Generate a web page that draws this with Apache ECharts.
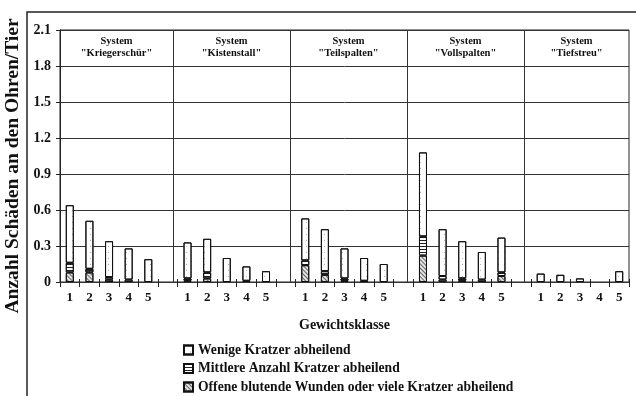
<!DOCTYPE html>
<html>
<head>
<meta charset="utf-8">
<script src="https://cdn.jsdelivr.net/npm/echarts@6/dist/echarts.min.js"></script>
<style>html,body{margin:0;padding:0;background:#fff;}#c{width:636px;height:396px;}</style>
</head>
<body>
<div id="c"></div>
<script>
const systems = ['"Kriegerschür"', '"Kistenstall"', '"Teilspalten"', '"Vollspalten"', '"Tiefstreu"'];
const classes = ['1', '2', '3', '4', '5'];
const yTicks = [0, 0.3, 0.6, 0.9, 1.2, 1.5, 1.8, 2.1];
const seriesNames = ['Wenige Kratzer abheilend', 'Mittlere Anzahl Kratzer abheilend', 'Offene blutende Wunden oder viele Kratzer abheilend'];
// per system, per weight class
const wenige   = [[0.48,0.40,0.30,0.26,0.19],[0.30,0.28,0.20,0.12,0.09],[0.35,0.35,0.25,0.19,0.15],[0.70,0.39,0.31,0.23,0.29],[0.07,0.06,0.03,0,0.09]];
const mittlere = [[0.08,0.03,0.02,0.02,0],[0.02,0.05,0,0.01,0],[0.04,0.03,0.02,0.01,0],[0.16,0.03,0.02,0.02,0.03],[0,0,0,0,0]];
const offene   = [[0.08,0.08,0.02,0,0],[0.01,0.03,0,0,0],[0.14,0.06,0.01,0,0],[0.22,0.02,0.01,0,0.05],[0,0,0,0,0]];

const FONT = '"Liberation Serif", "Times New Roman", serif';
const cats = [];
function flat(arr) {
  const out = [];
  arr.forEach((p, i) => {
    p.forEach(v => out.push(v === 0 ? null : v));
    if (i < arr.length - 1) out.push(null);
  });
  return out;
}
systems.forEach((s, i) => {
  classes.forEach(c => cats.push(c));
  if (i < systems.length - 1) cats.push(' ');
});

const PL = 60, PR = 7, PT = 30, PB = 114, W = 636, H = 396;
const divLeft = 56, panelW = 117;

const chart = echarts.init(document.getElementById('c'), null, {renderer: 'canvas'});

const base = {type: 'bar', stack: 'a', barWidth: 8, xAxisIndex: 0, yAxisIndex: 0};
const border = {borderColor: '#111', borderWidth: 1};

const panelRight = W - PR;
const titleGraphics = [];
systems.forEach((s, i) => {
  const l = i === 0 ? PL : divLeft + panelW * i;
  const r = Math.min(divLeft + panelW * (i + 1), panelRight);
  const cx = (l + r) / 2;
  titleGraphics.push({type: 'text', x: cx, y: 41, style: {text: 'System', textAlign: 'center', textVerticalAlign: 'middle', font: 'bold 10.5px ' + FONT, fill: '#111'}});
  titleGraphics.push({type: 'text', x: cx, y: 53, style: {text: s, textAlign: 'center', textVerticalAlign: 'middle', font: 'bold 10.5px ' + FONT, fill: '#111'}});
});

chart.setOption({
  animation: false,
  backgroundColor: '#fff',
  grid: [
    {left: PL, right: PR, top: PT, bottom: PB, show: true, borderColor: '#222', borderWidth: 1, backgroundColor: 'transparent'},
    {left: divLeft, right: PR, top: PT, bottom: PB, show: false}
  ],
  xAxis: [
    {type: 'category', gridIndex: 0, data: cats, boundaryGap: true,
     axisLine: {show: false},
     axisTick: {show: true, interval: 0, length: 5, lineStyle: {color: '#222'}},
     axisLabel: {interval: 0, margin: 9, color: '#111', fontFamily: FONT, fontWeight: 'bold', fontSize: 13},
     name: 'Gewichtsklasse', nameLocation: 'middle', nameGap: 36,
     nameTextStyle: {color: '#111', fontFamily: FONT, fontWeight: 'bold', fontSize: 14}},
    {type: 'category', gridIndex: 0, data: cats, boundaryGap: true, position: 'bottom',
     axisLine: {show: false},
     axisTick: {show: true, inside: true, interval: 0, length: 3, lineStyle: {color: '#222'}},
     axisLabel: {show: false}},
    {type: 'value', gridIndex: 1, min: 0, max: (W - PR - divLeft) / panelW, interval: 1,
     axisLine: {show: false}, axisTick: {show: false}, axisLabel: {show: false},
     splitLine: {show: true, showMinLine: false, showMaxLine: false, lineStyle: {color: '#333', width: 1}}}
  ],
  yAxis: [
    {type: 'value', gridIndex: 0, min: yTicks[0], max: yTicks[yTicks.length - 1], interval: 0.3,
     axisLine: {show: true, lineStyle: {color: '#222'}},
     axisTick: {show: true, length: 4, lineStyle: {color: '#222'}},
     axisLabel: {margin: 9, color: '#111', fontFamily: FONT, fontWeight: 'bold', fontSize: 14,
       formatter: v => { const t = yTicks.find(x => Math.abs(x - v) < 1e-6); return t === 0 ? '0' : t.toFixed(1); }},
     splitLine: {show: true, lineStyle: {color: '#333', width: 1}}},
    {type: 'value', gridIndex: 1, min: 0, max: 1, show: false, splitLine: {show: false}}
  ],
  legend: {
    orient: 'vertical', left: 183, top: 343, height: 60, padding: 0, itemWidth: 9, itemHeight: 9, itemGap: 4.5,
    data: seriesNames, icon: 'rect',
    textStyle: {color: '#111', fontFamily: FONT, fontWeight: 'bold', fontSize: 13.6, lineHeight: 14}
  },
  series: [
    Object.assign({}, base, {name: seriesNames[2], data: flat(offene),
      itemStyle: Object.assign({color: '#e4e4e4', decal: {symbol: 'rect', symbolSize: 1, color: '#666', dashArrayX: [1, 0], dashArrayY: [1, 2], rotation: Math.PI / 4}}, border)}),
    Object.assign({}, base, {name: seriesNames[1], data: flat(mittlere),
      itemStyle: Object.assign({color: '#fff', decal: {symbol: 'rect', symbolSize: 1, color: '#222', dashArrayX: [1, 0], dashArrayY: [1, 2]}}, border)}),
    Object.assign({}, base, {name: seriesNames[0], data: flat(wenige),
      itemStyle: Object.assign({color: '#fff', decal: {symbol: 'rect', symbolSize: 1, color: 'rgba(0,0,0,0.3)', dashArrayX: [1, 5], dashArrayY: [1, 5]}}, border)})
  ],
  graphic: [
    {type: 'polyline', shape: {points: [[27, H + 2], [27, 12], [W + 2, 12]]}, style: {stroke: '#222', lineWidth: 1.5, fill: null}},
    {type: 'text', x: 13, y: 166, rotation: Math.PI / 2,
     style: {text: 'Anzahl Schäden an den Ohren/Tier', textAlign: 'center', textVerticalAlign: 'middle', font: 'bold 19.5px ' + FONT, fill: '#111'}}
  ].concat(titleGraphics)
});
</script>
</body>
</html>
